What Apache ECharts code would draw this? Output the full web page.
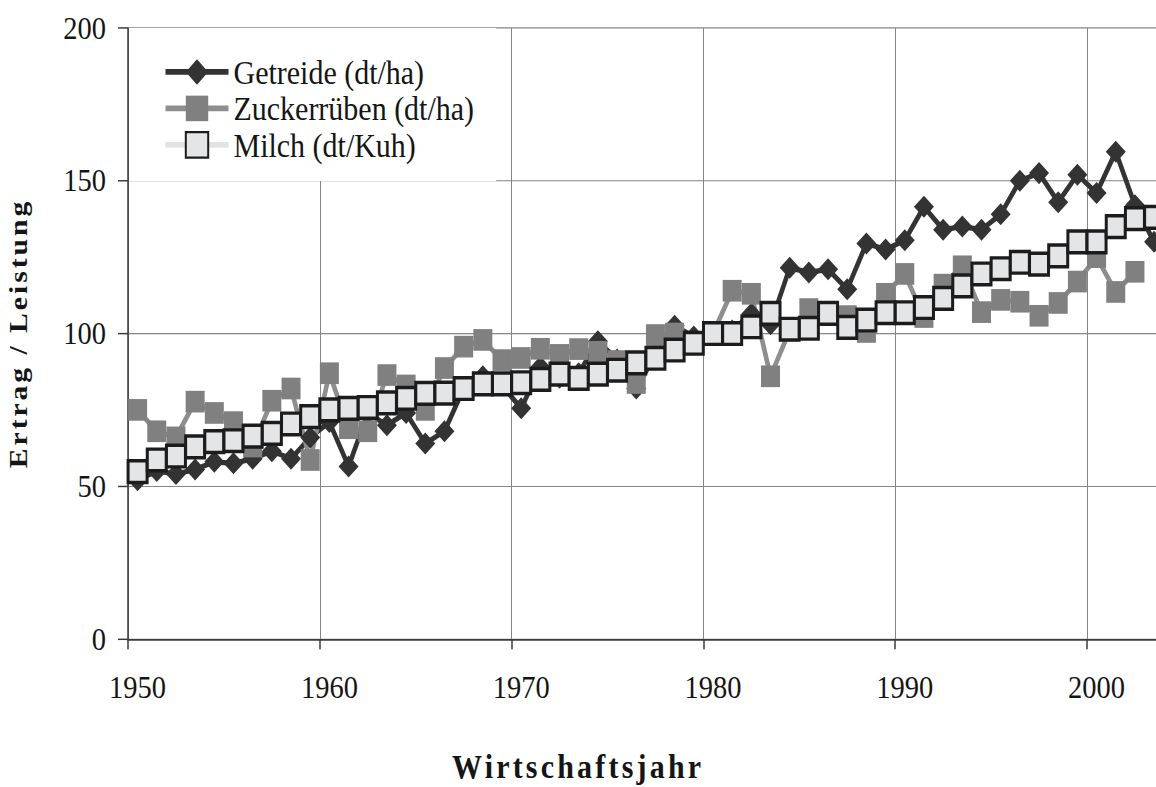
<!DOCTYPE html>
<html>
<head>
<meta charset="utf-8">
<title>Ertrag / Leistung 1950–2003</title>
<script src="https://cdn.jsdelivr.net/npm/echarts@6/dist/echarts.min.js"></script>
<style>
  html, body { margin: 0; padding: 0; background: #fff; overflow: hidden; }
  #wrap { width: 1156px; height: 787px; overflow: hidden; }
  /* the chart is laid out at 690px and stretched to the full page height */
  #chart { width: 1156px; height: 690px; transform: scaleY(1.1406); transform-origin: 0 0; }
</style>
</head>
<body>
<div id="wrap"><div id="chart"></div></div>
<script>
// Wirtschaftsjahre (categories)
const years = ['1950','1951','1952','1953','1954','1955','1956','1957','1958','1959',
               '1960','1961','1962','1963','1964','1965','1966','1967','1968','1969',
               '1970','1971','1972','1973','1974','1975','1976','1977','1978','1979',
               '1980','1981','1982','1983','1984','1985','1986','1987','1988','1989',
               '1990','1991','1992','1993','1994','1995','1996','1997','1998','1999',
               '2000','2001','2002','2003'];

// Getreide, dt/ha
const getreide = [52, 55, 54, 55.5, 58, 57.5, 59, 61.5, 59, 66,
                  71, 56.5, 74, 70, 74, 64, 68, 82, 86, 83,
                  75.5, 89, 85.5, 87, 97.5, 91.5, 82, 93, 102.5, 99,
                  100, 101, 106.5, 103, 121.5, 120, 121, 114.5, 129.5, 127.5,
                  130.5, 141.5, 134, 135, 134, 139, 150, 152.5, 143, 152,
                  146, 159.5, 142, 130];

// Zuckerrüben, dt/ha
const zuckerrueben = [75, 68, 66, 77.7, 74, 71, 63, 78, 82, 58.6,
                      87, 69, 68, 86.4, 83, 75, 88.7, 95.7, 97.9, 91.3,
                      92, 95, 93, 94.9, 94, 91, 83.8, 99.5, 100, 97,
                      100, 114, 113, 86, 101, 108, 106, 105.7, 100.5, 113,
                      119.5, 105.4, 116, 122, 107, 111, 110.4, 105.8, 110, 117,
                      125, 113.6, 120.2, null];

// Milch, dt/Kuh
const milch = [54.8, 58.6, 59.9, 62.9, 64.6, 64.9, 66.4, 67.3, 70.4, 72.8,
               75, 75.5, 75.8, 77.3, 78.8, 80.4, 80.5, 82, 83.5, 83.5,
               83.9, 85, 86.7, 85.3, 86.7, 88, 90.4, 91.9, 94.6, 96.8,
               100, 100, 102.2, 106.6, 101.4, 101.7, 106.6, 102, 104.4, 106.8,
               106.8, 108.5, 111.5, 115.6, 119.5, 121.2, 123.3, 122.7, 125.4, 130,
               130, 135, 137.6, 138];

const seriesNames = ['Getreide (dt/ha)', 'Zuckerrüben (dt/ha)', 'Milch (dt/Kuh)'];
const yTicks = [0, 50, 100, 150, 200];
const xTitle = 'Wirtschaftsjahr';
const yTitle = 'Ertrag / Leistung';

const FONT = 'Liberation Serif';
const TEXT = '#151515';

const chart = echarts.init(document.getElementById('chart'), null, { renderer: 'svg' });

chart.setOption({
  animation: false,
  backgroundColor: '#ffffff',
  grid: {
    left: 128,
    top: 24.55,
    width: 1035.7,
    height: 535.7,
    outerBoundsMode: 'none'
  },
  legend: {
    orient: 'vertical',
    left: 129,
    top: 24.55,
    padding: [23.5, 22, 16.6, 34],
    backgroundColor: '#ffffff',
    itemWidth: 63,
    itemHeight: 28,
    itemGap: 2,
    selectedMode: false,
    lineStyle: { width: 5 },
    textStyle: { fontFamily: FONT, fontSize: 30, color: TEXT, lineHeight: 30 },
    data: seriesNames
  },
  xAxis: {
    type: 'category',
    data: years,
    boundaryGap: true,
    axisLine: { show: true, lineStyle: { color: '#3a3a3a', width: 1.5 } },
    axisTick: { show: true, interval: 9, length: 9, lineStyle: { color: '#3a3a3a', width: 1.5 } },
    axisLabel: { interval: 9, margin: 28, fontFamily: FONT, fontSize: 28.5, color: TEXT },
    splitLine: { show: true, interval: 9, lineStyle: { color: '#858585', width: 1 } }
  },
  yAxis: {
    type: 'value',
    min: yTicks[0],
    max: yTicks[yTicks.length - 1],
    interval: yTicks[1] - yTicks[0],
    name: yTitle,
    nameLocation: 'middle',
    nameRotate: 90,
    nameGap: 97,
    nameTextStyle: { fontFamily: FONT, fontSize: 26, fontWeight: 'bold', color: TEXT },
    axisLine: { show: true, lineStyle: { color: '#3a3a3a', width: 1.5 } },
    axisTick: { show: true, length: 10, lineStyle: { color: '#3a3a3a', width: 1.3 } },
    axisLabel: { margin: 22, fontFamily: FONT, fontSize: 28.5, color: TEXT },
    splitLine: { show: true, lineStyle: { color: '#858585', width: 1 } }
  },
  graphic: [{
    type: 'text',
    x: 452,
    y: 671.5,
    silent: true,
    style: {
      text: xTitle,
      font: 'bold 30px ' + FONT,
      fill: TEXT,
      align: 'left',
      verticalAlign: 'middle'
    }
  }],
  series: [
    {
      name: seriesNames[0],
      type: 'line',
      data: getreide,
      symbol: 'diamond',
      symbolSize: [20, 19.3],
      showAllSymbol: true,
      lineStyle: { color: '#333333', width: 4.6 },
      itemStyle: { color: '#333333' },
      emphasis: { disabled: true },
      silent: true
    },
    {
      name: seriesNames[1],
      type: 'line',
      data: zuckerrueben,
      symbol: 'rect',
      symbolSize: 19,
      showAllSymbol: true,
      lineStyle: { color: '#8e8e8e', width: 4.6 },
      itemStyle: { color: '#808080' },
      emphasis: { disabled: true },
      silent: true
    },
    {
      name: seriesNames[2],
      type: 'line',
      data: milch,
      symbol: 'rect',
      symbolSize: 19,
      showAllSymbol: true,
      lineStyle: { color: '#e2e2e2', width: 4.6 },
      itemStyle: { color: '#e4e5e7', borderColor: '#1c1c1c', borderWidth: 3 },
      emphasis: { disabled: true },
      silent: true
    }
  ]
});

// Widen the letter spacing of both axis titles (bold, spaced lettering)
function spaceTitles() {
  document.querySelectorAll('#chart text').forEach(function (t) {
    const s = t.textContent;
    if (s === yTitle) t.setAttribute('letter-spacing', '2.6');
    if (s === xTitle) t.setAttribute('letter-spacing', '3.2');
  });
}
spaceTitles();
chart.on('finished', spaceTitles);
setTimeout(spaceTitles, 50);
</script>
</body>
</html>
